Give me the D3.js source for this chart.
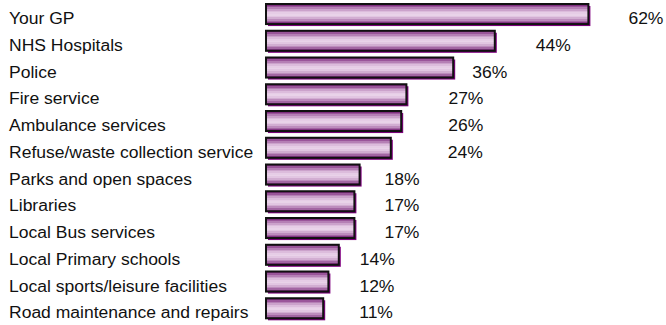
<!DOCTYPE html>
<html>
<head>
<meta charset="utf-8">
<script src="https://cdn.jsdelivr.net/npm/d3@7"></script>
<style>
  html, body { margin: 0; padding: 0; background: #fff; }
  svg { display: block; }
  text { font-family: "Liberation Sans", Arial, sans-serif; fill: #111; }
</style>
</head>
<body>
<svg id="chart" width="666" height="325"></svg>
<script>
// Share of respondents naming each service (%)
const services = [
  "Your GP",
  "NHS Hospitals",
  "Police",
  "Fire service",
  "Ambulance services",
  "Refuse/waste collection service",
  "Parks and open spaces",
  "Libraries",
  "Local Bus services",
  "Local Primary schools",
  "Local sports/leisure facilities",
  "Road maintenance and repairs"
];
const shares = [62, 44, 36, 27, 26, 24, 18, 17, 17, 14, 12, 11];
const shareLabels = ["62%", "44%", "36%", "27%", "26%", "24%", "18%", "17%", "17%", "14%", "12%", "11%"];

// Horizontal gap (px) between each bar's end and its value label
const labelGap = [40, 41, 19, 42, 47, 57, 25, 30, 30, 21, 31, 36];

const svg = d3.select("#chart");

const x = d3.scaleLinear().domain([0, 10]).range([266, 318]);
const y = d3.scaleBand()
  .domain(services)
  .range([4, 4 + 26.75 * 11.75])
  .paddingInner(0.25)
  .paddingOuter(0);

// Text is set slightly wide
const stretch = 1.095;

// Banded purple fill, dark at the edges and pale through the middle
const bands = ["#7e2e7e", "#9a559a", "#b57fb5", "#cba2cb", "#dcbcdc", "#e6cde6",
               "#e9d3e9", "#e2c6e2", "#d2aed2", "#bd8cbd", "#a366a3", "#833583"];
const grad = svg.append("defs").append("linearGradient")
  .attr("id", "barFill")
  .attr("x1", 0).attr("y1", 0).attr("x2", 0).attr("y2", 1);
bands.forEach((c, i) => {
  grad.append("stop").attr("offset", i / bands.length).attr("stop-color", c);
  grad.append("stop").attr("offset", (i + 1) / bands.length).attr("stop-color", c);
});

const rows = svg.append("g").selectAll("g")
  .data(services)
  .join("g");

// Drop shadow
rows.append("rect")
  .attr("x", x(0) + 2)
  .attr("y", d => y(d) + 2)
  .attr("width", (d, i) => x(shares[i]) - x(0))
  .attr("height", y.bandwidth())
  .attr("fill", "#800080");

// Bar
rows.append("rect")
  .attr("x", x(0))
  .attr("y", d => y(d))
  .attr("width", (d, i) => x(shares[i]) - x(0))
  .attr("height", y.bandwidth())
  .attr("fill", "url(#barFill)")
  .attr("stroke", "#111")
  .attr("stroke-width", 2);

// Category names
rows.append("text")
  .attr("transform", d => `translate(9,${y(d) + y.bandwidth()}) scale(${stretch},1)`)
  .attr("font-size", 16)
  .text(d => d);

// Value labels
rows.append("text")
  .attr("transform", (d, i) =>
    `translate(${x(shares[i]) + labelGap[i]},${y(d) + y.bandwidth()}) scale(${stretch},1)`)
  .attr("font-size", 16)
  .text((d, i) => shareLabels[i]);
</script>
</body>
</html>
